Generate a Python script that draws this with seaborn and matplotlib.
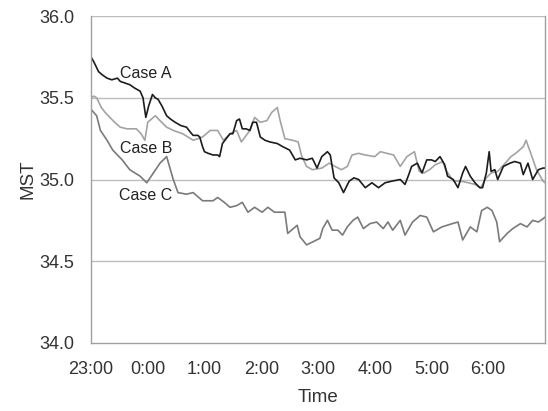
import numpy as np
import pandas as pd
import matplotlib
matplotlib.use("Agg")
import matplotlib.pyplot as plt
import seaborn as sns

# minutes after 23:00 and MST values
a_min = [0, 3, 8, 12, 17, 22, 28, 31, 36, 41, 46, 52, 55, 58, 61, 65, 68, 71, 75, 80,
         84, 89, 95, 101, 105, 108, 113, 115, 118, 120, 124, 129, 134, 136, 139, 143, 147,
         150, 154, 157, 160, 164, 168, 171, 175, 179, 184, 189, 197, 203, 210, 216, 221,
         228, 234, 239, 244, 250, 253, 257, 262, 267, 273, 278, 283, 290, 297, 304, 311,
         318, 327, 332, 336, 339, 345, 350, 355, 360, 364, 369, 374, 377, 383, 388, 393,
         396, 401, 406, 411, 414, 418, 421, 423, 427, 430, 436, 443, 448, 454, 457, 462,
         467, 473, 478, 480]
a_val = [35.75, 35.72, 35.66, 35.64, 35.62, 35.61, 35.62, 35.60, 35.59, 35.58, 35.56, 35.54,
         35.50, 35.38, 35.45, 35.52, 35.50, 35.49, 35.45, 35.39, 35.37, 35.35, 35.33, 35.32,
         35.29, 35.27, 35.27, 35.26, 35.20, 35.17, 35.16, 35.15, 35.15, 35.14, 35.22, 35.25,
         35.28, 35.28, 35.36, 35.37, 35.31, 35.31, 35.30, 35.35, 35.35, 35.26, 35.24, 35.23,
         35.22, 35.20, 35.18, 35.12, 35.13, 35.12, 35.13, 35.07, 35.14, 35.17, 35.15, 35.01,
         34.98, 34.92, 34.99, 35.01, 35.00, 34.95, 34.98, 34.95, 34.98, 34.99, 35.00, 34.97,
         35.03, 35.08, 35.10, 35.04, 35.12, 35.12, 35.11, 35.14, 35.09, 35.02, 35.00, 34.95,
         35.04, 35.08, 35.02, 34.98, 34.95, 34.95, 35.04, 35.17, 35.05, 35.06, 35.00, 35.08,
         35.10, 35.11, 35.10, 35.03, 35.10, 35.00, 35.06, 35.07, 35.07]

b_min = [0, 3, 6, 11, 15, 20, 25, 31, 38, 48, 53, 57, 60, 64, 68, 73, 80, 87, 97, 108, 118,
         126, 134, 140, 147, 154, 159, 168, 173, 179, 186, 191, 197, 200, 205, 213, 219, 223,
         228, 234, 244, 252, 258, 265, 271, 276, 283, 290, 300, 306, 313, 320, 327, 334, 342,
         347, 352, 358, 364, 372, 375, 383, 391, 399, 406, 412, 418, 423, 430, 438, 444, 449,
         457, 460, 465, 471, 478, 480]
b_val = [35.50, 35.51, 35.50, 35.44, 35.41, 35.38, 35.35, 35.32, 35.31, 35.31, 35.28, 35.24,
         35.35, 35.37, 35.39, 35.36, 35.32, 35.30, 35.28, 35.24, 35.26, 35.30, 35.30, 35.24,
         35.28, 35.30, 35.23, 35.30, 35.38, 35.35, 35.36, 35.41, 35.44, 35.36, 35.25, 35.24,
         35.23, 35.14, 35.08, 35.06, 35.07, 35.10, 35.08, 35.06, 35.08, 35.15, 35.16, 35.15,
         35.14, 35.17, 35.16, 35.15, 35.08, 35.14, 35.17, 35.05, 35.04, 35.06, 35.09, 35.11,
         35.06, 34.99, 34.99, 34.98, 34.97, 34.95, 35.01, 35.04, 35.05, 35.10, 35.14, 35.16,
         35.20, 35.24, 35.16, 35.06, 34.99, 34.98]

c_min = [0, 6, 10, 17, 23, 33, 41, 52, 59, 66, 73, 80, 87, 92, 101, 108, 118, 129, 134, 141,
         147, 154, 160, 166, 173, 181, 187, 194, 202, 205, 208, 214, 218, 221, 228, 235, 242,
         245, 250, 255, 261, 266, 271, 277, 282, 288, 295, 302, 309, 314, 319, 327, 332, 340,
         348, 355, 362, 371, 382, 388, 393, 401, 408, 413, 419, 424, 429, 432, 440, 446, 454,
         461, 467, 473, 478, 480]
c_val = [35.43, 35.39, 35.30, 35.24, 35.18, 35.12, 35.06, 35.02, 34.98, 35.04, 35.10, 35.14,
         35.00, 34.92, 34.91, 34.92, 34.87, 34.87, 34.89, 34.86, 34.83, 34.84, 34.86, 34.80,
         34.83, 34.80, 34.83, 34.80, 34.80, 34.80, 34.67, 34.70, 34.72, 34.65, 34.60, 34.62,
         34.64, 34.70, 34.75, 34.69, 34.69, 34.66, 34.71, 34.75, 34.77, 34.70, 34.73, 34.74,
         34.70, 34.74, 34.69, 34.75, 34.66, 34.74, 34.78, 34.77, 34.68, 34.71, 34.73, 34.74,
         34.63, 34.71, 34.68, 34.81, 34.83, 34.81, 34.74, 34.62, 34.67, 34.70, 34.73, 34.71,
         34.75, 34.74, 34.76, 34.77]

hour_labels = ["23:00", "0:00", "1:00", "2:00", "3:00", "4:00", "5:00", "6:00"]
y_ticks = [34.0, 34.5, 35.0, 35.5, 36.0]

sns.set_style("white")
plt.rcParams["font.family"] = ["Liberation Sans", "DejaVu Sans"]

fig = plt.figure(figsize=(5.48, 4.11), dpi=100)
ax = fig.add_axes([0.166, 0.1655, 0.8285, 0.7955])

for y in y_ticks[1:]:
    ax.axhline(y, color="#bdbdbd", lw=1.0, zorder=0)

sns.lineplot(x=c_min, y=c_val, color="#7a7a7a", lw=1.2, ax=ax)
sns.lineplot(x=b_min, y=b_val, color="#a3a3a3", lw=1.2, ax=ax)
sns.lineplot(x=a_min, y=a_val, color="#1c1c1c", lw=1.2, ax=ax)

ax.text(58, 35.65, "Case A", ha="center", va="center", fontsize=11.5, color="#222222")
ax.text(58, 35.19, "Case B", ha="center", va="center", fontsize=11.5, color="#222222")
ax.text(58, 34.90, "Case C", ha="center", va="center", fontsize=11.5, color="#222222")

ax.set_xlim(0, 480)
ax.set_ylim(34.0, 36.0)
ticks = list(range(0, 481, 30))
labels = [hour_labels[i // 2] if i % 2 == 0 and i // 2 < len(hour_labels) else "" for i in range(len(ticks))]
ax.set_xticks(ticks)
ax.set_xticklabels(labels)
ax.set_yticks(y_ticks)
ax.set_yticklabels([f"{v:.1f}" for v in y_ticks])
ax.tick_params(axis="x", length=4, color="#999999", direction="in", labelsize=13,
               pad=13, labelcolor="#333333")
ax.tick_params(axis="y", length=0, labelsize=13, pad=12, labelcolor="#333333")

for side in ["left", "bottom", "right"]:
    ax.spines[side].set_color("#a0a0a0")
    ax.spines[side].set_linewidth(1.0)
ax.spines["top"].set_visible(False)

ax.set_xlabel("Time", fontsize=13.5, labelpad=8, color="#333333")
ax.set_ylabel("MST", fontsize=13.5, labelpad=2, color="#333333")

fig.savefig("out.png", dpi=100)
